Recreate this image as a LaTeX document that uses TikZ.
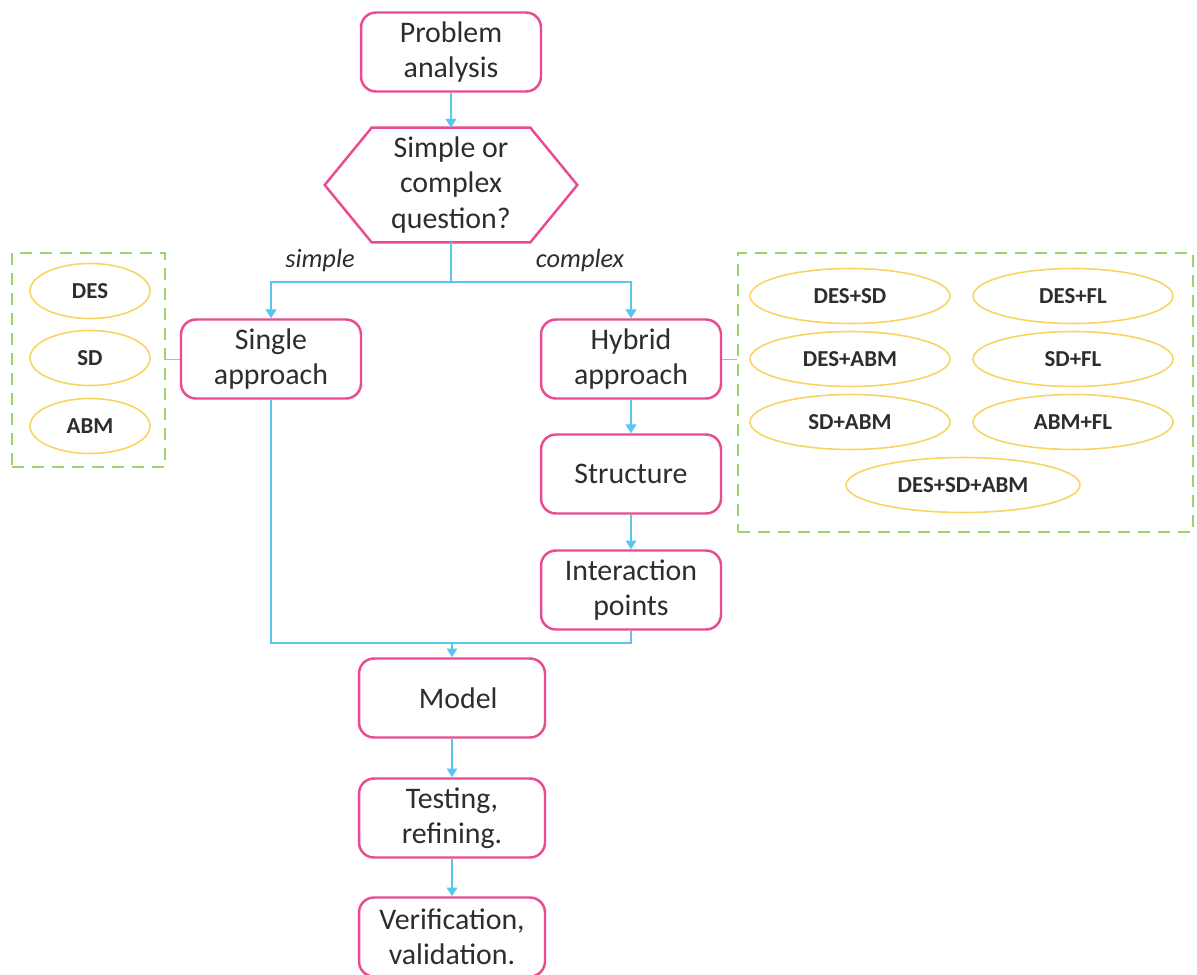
\documentclass[tikz,border=0pt]{standalone}
\usepackage{fontspec}
\setmainfont{Carlito}
\usepackage{tikz}
\usetikzlibrary{arrows.meta,positioning,shapes.geometric}
\definecolor{boxpink}{RGB}{234,74,146}
\definecolor{flowblue}{RGB}{88,198,238}
\definecolor{ovalyellow}{RGB}{248,212,96}
\definecolor{groupgreen}{RGB}{158,210,108}
\definecolor{txtgray}{RGB}{45,45,45}

\begin{document}
\begin{tikzpicture}[x=0.02cm,y=-0.02cm,>={Triangle[width=6pt,length=5pt]},
    every node/.style={text=txtgray,align=center,inner sep=0pt},
    procbox/.style={draw=boxpink,line width=1.4pt,rounded corners=0.3cm,
      minimum width=3.6cm,minimum height=1.58cm,font=\fontsize{17}{20}\selectfont},
    method/.style={draw=ovalyellow,line width=0.9pt,ellipse,minimum width=4cm,
      minimum height=1.1cm,font=\bfseries\fontsize{13}{15}\selectfont},
    flowline/.style={draw=flowblue,line width=1.1pt},
    flow/.style={flowline,->},
    group/.style={draw=groupgreen,dash pattern=on 0.24cm off 0.16cm,line width=1.1pt},
    link/.style={draw=groupgreen,line width=0.5pt},
    branch/.style={font=\itshape\fontsize{15}{18}\selectfont}]
  \clip (0,0) rectangle (1197,974);

  \node[procbox] (problem) at (451,52) {Problem\\analysis};
  \node[minimum width=5.04cm,minimum height=2.28cm,font=\fontsize{17}{20}\selectfont]
    (question) at (451,185) {Simple or\\complex\\question?};
  \draw[draw=boxpink,line width=1.4pt] (question.west) -- ([xshift=0.94cm]question.north west)
    -- ([xshift=-0.94cm]question.north east) -- (question.east)
    -- ([xshift=-0.94cm]question.south east) -- ([xshift=0.94cm]question.south west) -- cycle;

  \node[procbox] (single) at (271,359) {Single\\approach};
  \node[procbox] (hybrid) at (631,359) {Hybrid\\approach};
  \node[procbox] (structure) at (631,474) {Structure};
  \node[procbox] (interact) at (631,590) {Interaction\\points};
  \node[procbox,minimum width=3.72cm] (model) at (452,698) {\hspace{0.25cm}Model};
  \node[procbox,minimum width=3.72cm] (testing) at (452,818) {Testing,\\refining.};
  \node[procbox,minimum width=3.72cm] (verify) at (452,937) {Verification,\\validation.};

  \node[branch] (lsimple) at (320,260) {simple};
  \node[branch] (lcomplex) at (580,260) {complex};

  \coordinate (split) at (451,282);
  \coordinate (merge) at (452,643);
  \draw[flow] (problem) -- (question);
  \draw[flowline] (question.south) -- (split);
  \draw[flow] (split) -| (single);
  \draw[flow] (split) -| (hybrid);
  \draw[flow] (hybrid) -- (structure);
  \draw[flow] (structure) -- (interact);
  \draw[flowline] (single.south) |- (merge);
  \draw[flowline] (interact.south) |- (merge);
  \draw[flow] (merge) -- (model);
  \draw[flow] (model) -- (testing);
  \draw[flow] (testing) -- (verify);

  \node[group,minimum width=3.06cm,minimum height=4.28cm] (singlegroup) at (88.5,360) {};
  \node[method,minimum width=2.4cm] (des) at (90,291) {DES};
  \node[method,minimum width=2.4cm] (sd) at (90,358) {SD};
  \node[method,minimum width=2.4cm] (abm) at (90,426) {ABM};
  \draw[link] (single.west) -- (single.west -| singlegroup.east);

  \node[group,minimum width=9.1cm,minimum height=5.58cm] (hybridgroup) at (965.5,392.5) {};
  \node[method] (dessd) at (850,296) {DES+SD};
  \node[method] (desfl) at (1073,296) {DES+FL};
  \node[method] (desabm) at (850,359) {DES+ABM};
  \node[method] (sdfl) at (1073,359) {SD+FL};
  \node[method] (sdabm) at (850,422) {SD+ABM};
  \node[method] (abmfl) at (1073,422) {ABM+FL};
  \node[method,minimum width=4.68cm] (dessdabm) at (963,485) {DES+SD+ABM};
  \draw[link] (hybrid.east) -- (hybrid.east -| hybridgroup.west);
\end{tikzpicture}
\end{document}
